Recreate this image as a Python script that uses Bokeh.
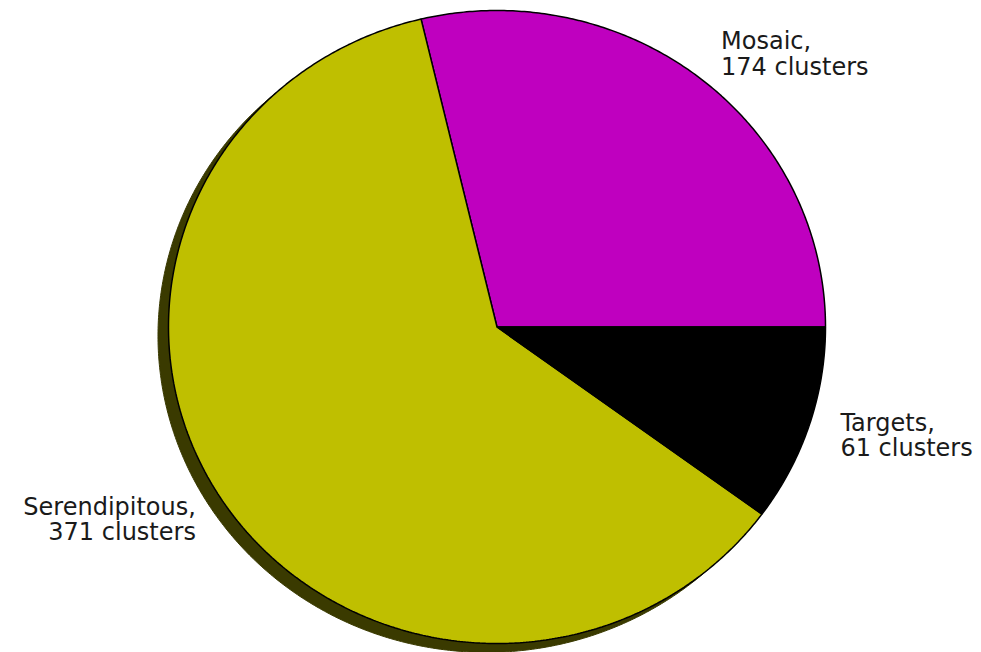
import numpy as np
from bokeh.plotting import figure
from bokeh.models import ColumnDataSource, Range1d
from bokeh.core.properties import value
from bokeh.embed import file_html
from bokeh.resources import INLINE

# ---- data ----
categories = ["Mosaic", "Serendipitous", "Targets"]
counts = [174, 371, 61]
colors = ["#bf00bf", "#bfbf00", "#000000"]
shadow_colors = ["#390039", "#3a3a00", "#000000"]
labels = ["Mosaic,\n174 clusters", "Serendipitous,\n371 clusters", "Targets,\n61 clusters"]

W, H = 981, 652
# pixel geometry of the pie (ellipse, as in reference)
cx_px, cy_px = 496.5, 326.5
rx_px, ry_px = 328.5, 316.5

p = figure(width=W, height=H, output_backend="svg", toolbar_location=None,
           min_border=0, outline_line_color=None)
p.x_range = Range1d(-cx_px / rx_px, (W - cx_px) / rx_px)
p.y_range = Range1d(-(H - cy_px) / ry_px, cy_px / ry_px)
p.axis.visible = False
p.grid.visible = False
p.background_fill_color = "white"
p.border_fill_color = "white"

total = float(sum(counts))
fr = np.array(counts) / total
ends = np.cumsum(fr) * 2 * np.pi
starts = np.concatenate([[0.0], ends[:-1]])

xs, ys = [], []
for s, e in zip(starts, ends):
    t = np.linspace(s, e, max(int((e - s) / (2 * np.pi) * 720), 8))
    xs.append(np.concatenate([[0.0], np.cos(t), [0.0]]))
    ys.append(np.concatenate([[0.0], np.sin(t), [0.0]]))

dx_sh, dy_sh = -0.032, -0.028
sh = ColumnDataSource(dict(xs=[x + dx_sh for x in xs], ys=[y + dy_sh for y in ys],
                           color=shadow_colors))
p.patches("xs", "ys", source=sh, fill_color="color", line_color="color", line_width=1)

src = ColumnDataSource(dict(xs=xs, ys=ys, color=colors, cat=categories))
p.patches("xs", "ys", source=src, fill_color="color", line_color="black", line_width=1.5)

mids = (starts + ends) / 2
lx = 1.1 * np.cos(mids)
ly = 1.1 * np.sin(mids)
align = ["left" if x > 0 else "right" for x in lx]
tsrc = ColumnDataSource(dict(x=lx, y=ly, text=labels, align=align))
p.text("x", "y", text="text", source=tsrc, text_align="align", text_baseline="middle",
       text_font=value("DejaVu Sans"), text_font_size="24px", text_color="#1a1a1a",
       text_line_height=0.91)

open("out.html", "w").write(file_html(p, INLINE))
